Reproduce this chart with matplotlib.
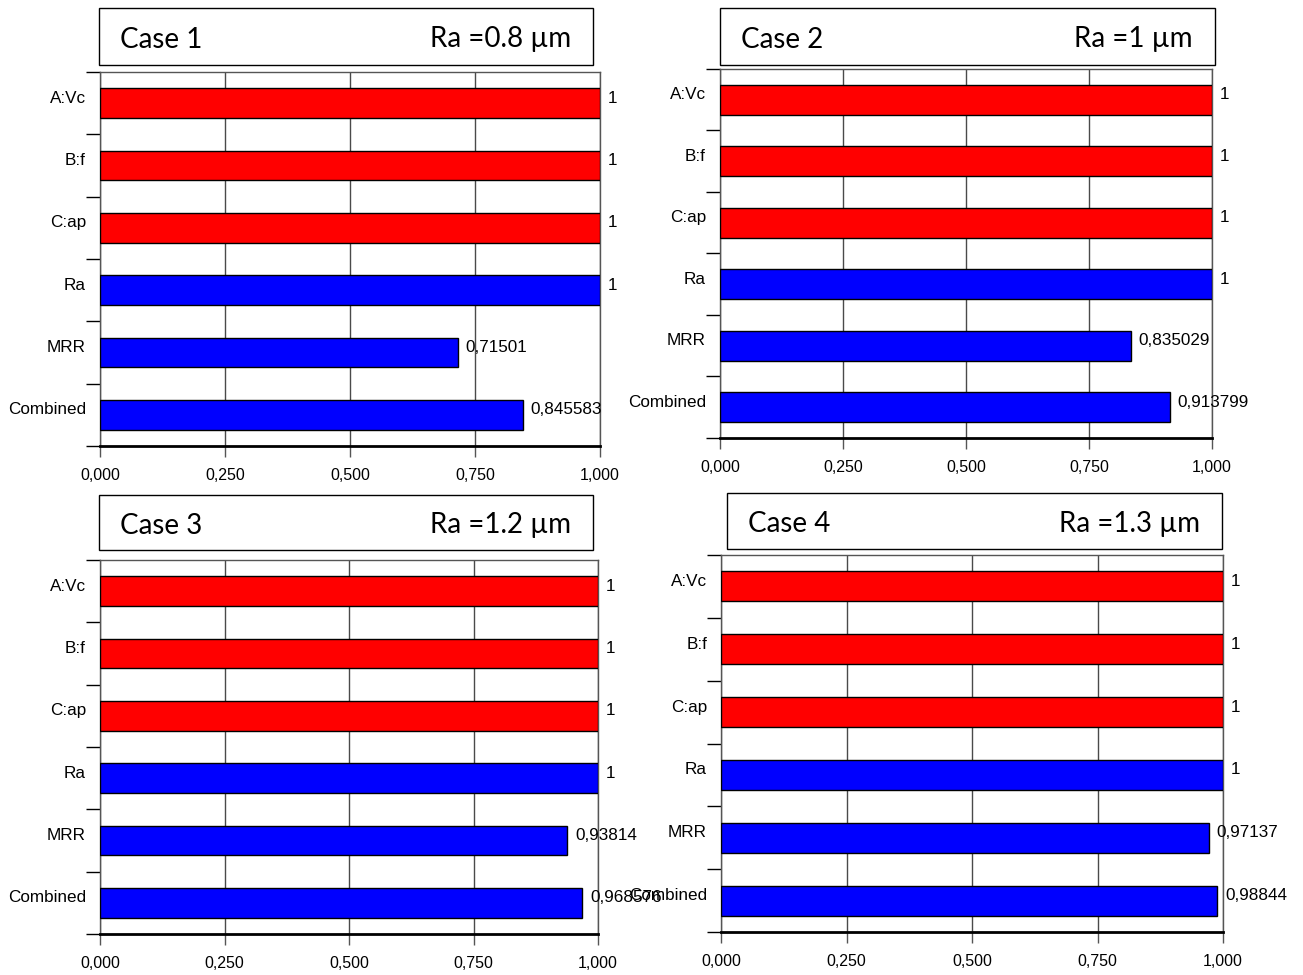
import matplotlib
matplotlib.use("Agg")
import matplotlib.pyplot as plt
import matplotlib.transforms as mtransforms
from matplotlib.patches import Rectangle

categories = ["A:Vc", "B:f", "C:ap", "Ra", "MRR", "Combined"]
bar_colors = ["#FF0000", "#FF0000", "#FF0000", "#0000FF", "#0000FF", "#0000FF"]

case_titles = ["Case 1", "Case 2", "Case 3", "Case 4"]
ra_titles = ["Ra =0.8 µm", "Ra =1 µm", "Ra =1.2 µm", "Ra =1.3 µm"]

case1_values = [1, 1, 1, 1, 0.71501, 0.845583]
case2_values = [1, 1, 1, 1, 0.835029, 0.913799]
case3_values = [1, 1, 1, 1, 0.93814, 0.968576]
case4_values = [1, 1, 1, 1, 0.97137, 0.98844]
case1_labels = ["1", "1", "1", "1", "0,71501", "0,845583"]
case2_labels = ["1", "1", "1", "1", "0,835029", "0,913799"]
case3_labels = ["1", "1", "1", "1", "0,93814", "0,968576"]
case4_labels = ["1", "1", "1", "1", "0,97137", "0,98844"]

xticks = [0, 0.25, 0.5, 0.75, 1.0]
xtick_labels = ["0,000", "0,250", "0,500", "0,750", "1,000"]

all_values = [case1_values, case2_values, case3_values, case4_values]
all_labels = [case1_labels, case2_labels, case3_labels, case4_labels]

W, H = 1303, 975
fig = plt.figure(figsize=(W / 100, H / 100), dpi=100)

# pixel layout: (left, right, top, bottom) of axes; (left, top, right, bottom) of title box
axes_px = [(100, 600, 72, 446), (720, 1212, 69, 438), (100, 598, 560, 934), (721, 1223, 555, 932)]
box_px = [(99, 8, 593, 65), (720, 8, 1215, 65), (99, 495, 593, 550), (727, 493, 1222, 549)]

FS = 12.3
FONT = "Liberation Sans"

for i in range(4):
    l, r, t, b = axes_px[i]
    ax = fig.add_axes([l / W, 1 - b / H, (r - l) / W, (b - t) / H])
    vals = all_values[i]
    ypos = list(range(len(categories)))
    ax.barh(ypos, vals, height=0.48, color=bar_colors, edgecolor="black", linewidth=1.0, zorder=3)
    ax.set_xlim(0, 1)
    ax.set_ylim(5.5, -0.5)
    ax.set_xticks(xticks)
    ax.set_xticklabels(xtick_labels, fontsize=11.5, family=FONT)
    ax.tick_params(axis="x", direction="out", length=8, width=1, color="#555555", pad=8)
    ax.set_yticks([k - 0.5 for k in range(7)])
    ax.set_yticklabels([])
    ax.tick_params(axis="y", direction="out", length=10, width=1, color="black")
    ax.grid(axis="x", color="#4a4a4a", linewidth=1.0, zorder=0)
    ax.set_axisbelow(True)
    for side in ["top", "right", "left"]:
        ax.spines[side].set_color("#555555")
        ax.spines[side].set_linewidth(1.0)
    ax.spines["bottom"].set_color("black")
    ax.spines["bottom"].set_linewidth(2.0)

    ylab_tr = mtransforms.blended_transform_factory(ax.transAxes, ax.transData) + \
        mtransforms.ScaledTranslation(-14 / 100, 5 / 100, fig.dpi_scale_trans)
    for k, c in enumerate(categories):
        ax.text(0, k, c, transform=ylab_tr, ha="right", va="center", fontsize=FS, family=FONT)
        ax.text(vals[k], k, all_labels[i][k],
                transform=ax.transData + mtransforms.ScaledTranslation(8 / 100, 5 / 100, fig.dpi_scale_trans),
                ha="left", va="center", fontsize=FS, family=FONT, clip_on=False)

    bl, bt, br, bb = box_px[i]
    fig.patches.append(Rectangle((bl / W, 1 - bb / H), (br - bl) / W, (bb - bt) / H,
                                 transform=fig.transFigure, facecolor="white",
                                 edgecolor="black", linewidth=1.0))
    cy = 1 - ((bt + bb) / 2 + 3) / H
    fig.text((bl + 21) / W, cy, case_titles[i], ha="left", va="center", fontsize=20, family="Lato")
    fig.text((br - 22) / W, cy, ra_titles[i], ha="right", va="center", fontsize=20, family="Lato")

fig.savefig("out.png", dpi=100)
